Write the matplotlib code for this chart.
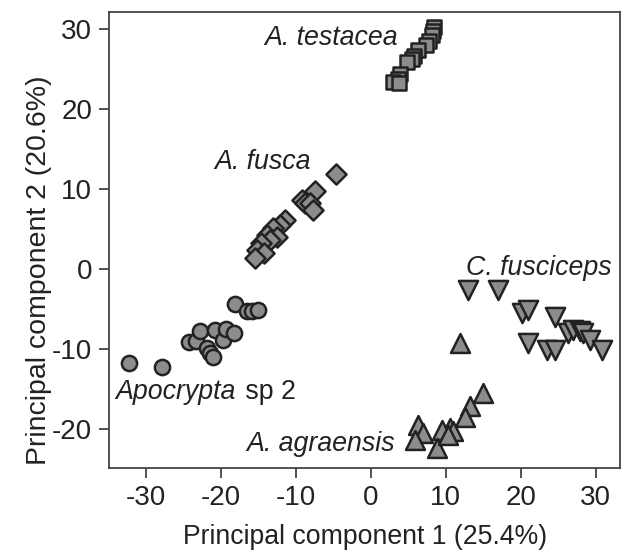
import matplotlib
matplotlib.use('Agg')
import matplotlib.pyplot as plt

plt.rcParams['font.family'] = ['Liberation Sans', 'DejaVu Sans']
plt.rcParams['axes.unicode_minus'] = False

# PCA scores, one pair of arrays per species
testacea_x = [8.4, 8.3, 8.1, 7.8, 7.4, 6.3, 5.8, 5.5, 4.8, 3.9, 3.6, 3.0, 3.8]
testacea_y = [30.2, 29.7, 29.2, 28.5, 28.0, 27.3, 26.6, 26.2, 25.8, 24.3, 23.7, 23.4, 23.2]

fusca_x = [-4.6, -7.4, -9.2, -8.8, -8.1, -7.7, -11.4, -12.1, -13.0, -13.9, -12.5, -13.4, -14.6, -15.2, -14.3, -15.4]
fusca_y = [11.9, 9.75, 8.6, 8.2, 8.2, 7.4, 6.1, 5.5, 5.1, 4.25, 4.0, 3.6, 3.2, 2.4, 2.0, 1.3]

apocrypta_x = [-32.3, -27.8, -24.2, -23.3, -22.8, -21.9, -21.4, -21.1, -20.8, -19.7, -19.3, -18.2, -18.1, -16.5, -15.9, -15.0]
apocrypta_y = [-11.8, -12.3, -9.2, -9.0, -7.8, -9.9, -10.5, -11.0, -7.6, -8.9, -7.5, -8.0, -4.4, -5.3, -5.3, -5.1]

fusciceps_x = [13.0, 17.0, 20.1, 21.0, 24.6, 21.0, 23.5, 24.6, 26.3, 27.0, 27.9, 28.3, 29.2, 30.8]
fusciceps_y = [-2.6, -2.6, -5.5, -5.1, -6.0, -9.3, -10.1, -10.1, -8.0, -7.6, -7.8, -8.0, -8.9, -10.1]

agraensis_x = [11.9, 14.9, 13.2, 12.6, 10.6, 11.0, 9.5, 6.3, 7.0, 5.9, 8.8, 10.3]
agraensis_y = [-9.3, -15.5, -17.2, -18.5, -19.9, -20.3, -20.1, -19.5, -20.5, -21.4, -22.4, -20.75]

face = '#8c8c8c'
edge = '#222222'
txt = '#222222'

fig = plt.figure(figsize=(6.28, 5.53), dpi=100)
ax = fig.add_axes([0.1736, 0.1537, 0.8134, 0.8246])

kw = dict(c=face, edgecolors=edge, linewidths=1.8, zorder=3)
ax.scatter(apocrypta_x, apocrypta_y, marker='o', s=120, **kw)
ax.scatter(fusca_x, fusca_y, marker='D', s=105, **kw)
ax.scatter(testacea_x, testacea_y, marker='s', s=100, **kw)
ax.scatter(fusciceps_x, fusciceps_y, marker='v', s=190, **kw)
ax.scatter(agraensis_x, agraensis_y, marker='^', s=185, **kw)

lab = dict(fontsize=19.3, color=txt, va='center')
ax.text(3.6, 28.9, 'A. testacea', style='italic', ha='right', **lab)
ax.text(-8.0, 13.4, 'A. fusca', style='italic', ha='right', **lab)
ax.text(12.7, 0.15, 'C. fusciceps', style='italic', ha='left', **lab)
t = ax.text(-34.0, -15.4, 'Apocrypta', style='italic', ha='left', **lab)
ax.text(3.2, -21.9, 'A. agraensis', style='italic', ha='right', **lab)

# "sp 2" in upright type right after the italic genus name
fig.canvas.draw()
bb = t.get_window_extent()
x_end = ax.transData.inverted().transform((bb.x1, bb.y0))[0]
ax.text(x_end, -15.4, ' sp 2', ha='left', **lab)

ax.set_xlim(-34.9, 33.2)
ax.set_ylim(-24.9, 32.1)
ax.set_xticks([-30, -20, -10, 0, 10, 20, 30])
ax.set_yticks([-20, -10, 0, 10, 20, 30])
ax.tick_params(labelsize=20, colors='#333333', labelcolor=txt, length=7, width=1.2, pad=5)
for s in ax.spines.values():
    s.set_linewidth(1.3)
    s.set_color('#444444')

ax.set_xlabel('Principal component 1 (25.4%)', fontsize=19.2, color=txt, va='center')
ax.set_ylabel('Principal component 2 (20.6%)', fontsize=20.5, color=txt, va='center')
ax.xaxis.set_label_coords(0.501, -0.151)
ax.yaxis.set_label_coords(-0.137, 0.434)

fig.savefig('out.png', dpi=100)
